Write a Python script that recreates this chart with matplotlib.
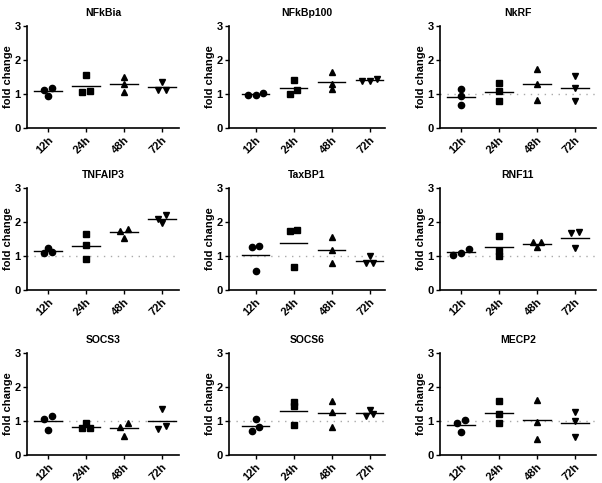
import matplotlib.pyplot as plt
import numpy as np

plt.rcParams['font.family'] = ['Liberation Sans', 'DejaVu Sans']
plt.rcParams['font.weight'] = 'bold'

times = ["12h", "24h", "48h", "72h"]
markers = ["o", "s", "^", "v"]

genes = ["NFkBia", "NFkBp100", "NkRF",
         "TNFAIP3", "TaxBP1", "RNF11",
         "SOCS3", "SOCS6", "MECP2"]

# fold change values, 3 replicates per time point
NFkBia = [[1.18, 1.12, 0.93], [1.56, 1.05, 1.08], [1.51, 1.28, 1.05], [1.36, 1.12, 1.12]]
NFkBp100 = [[1.02, 0.97, 0.97], [1.41, 1.01, 1.13], [1.65, 1.16, 1.28], [1.44, 1.39, 1.39]]
NkRF = [[1.14, 0.94, 0.67], [1.33, 1.10, 0.78], [1.74, 1.29, 0.81], [1.54, 1.17, 0.80]]
TNFAIP3 = [[1.25, 1.08, 1.13], [1.65, 1.33, 0.92], [1.80, 1.74, 1.54], [2.20, 1.96, 2.10]]
TaxBP1 = [[1.29, 1.27, 0.55], [1.76, 1.73, 0.69], [1.55, 1.17, 0.78], [0.99, 0.80, 0.80]]
RNF11 = [[1.20, 1.04, 1.09], [1.59, 1.01, 1.16], [1.42, 1.26, 1.41], [1.70, 1.69, 1.24]]
SOCS3 = [[1.16, 1.06, 0.74], [0.93, 0.78, 0.78], [0.94, 0.83, 0.57], [1.35, 0.76, 0.86]]
SOCS6 = [[1.07, 0.70, 0.81], [1.56, 1.43, 0.87], [1.60, 1.27, 0.81], [1.33, 1.16, 1.20]]
MECP2 = [[1.02, 0.93, 0.69], [1.60, 1.20, 0.95], [1.62, 0.97, 0.46], [1.26, 1.01, 0.54]]

data = [NFkBia, NFkBp100, NkRF, TNFAIP3, TaxBP1, RNF11, SOCS3, SOCS6, MECP2]
dotted_ref = [False, False, True, True, True, True, True, True, True]


def spread(vals):
    # scatter-dot style: points with similar values sit side by side
    vals = np.array(vals)
    offs = np.zeros(len(vals))
    order = np.argsort(vals)
    groups = [[order[0]]]
    for i in order[1:]:
        if vals[i] - vals[groups[-1][-1]] < 0.12:
            groups[-1].append(i)
        else:
            groups.append([i])
    for g in groups:
        n = len(g)
        for k, i in enumerate(g):
            offs[i] = (k - (n - 1) / 2) * 0.2
    return offs


fig = plt.figure(figsize=(6.02, 4.83), dpi=100)
W, H = 602.0, 483.0
col_left = [27, 229, 440]
col_xlim = [(-0.55, 3.45), (-0.7, 3.4), (-0.55, 3.55)]
row_top = [26, 188, 353]
ax_h = 102

for idx, gene in enumerate(genes):
    r, c = divmod(idx, 3)
    xl = col_xlim[c]
    width = (xl[1] - xl[0]) * 38
    ax = fig.add_axes([col_left[c] / W, 1 - (row_top[r] + ax_h) / H, width / W, ax_h / H])
    if dotted_ref[idx]:
        ax.axhline(1, color="#aaaaaa", ls=(0, (1, 4)), lw=1, zorder=0)
    for t, vals in enumerate(data[idx]):
        offs = spread(vals)
        ax.plot(t + offs, vals, ls="none", marker=markers[t], color="black", ms=4.5, zorder=3)
        m = np.mean(vals)
        ax.plot([t - 0.36, t + 0.36], [m, m], color="black", lw=1, zorder=2)
    ax.set_xlim(xl)
    ax.set_ylim(0, 3)
    ax.set_yticks([0, 1, 2, 3])
    ax.set_xticks(range(4))
    ax.set_xticklabels(times, rotation=45, ha="right", rotation_mode="anchor", fontsize=8)
    ax.tick_params(axis="y", labelsize=8, length=3, width=1, pad=1.5)
    ax.tick_params(axis="x", length=3, width=1, pad=2)
    ax.spines["top"].set_visible(False)
    ax.spines["right"].set_visible(False)
    ax.spines["left"].set_linewidth(1.2)
    ax.spines["bottom"].set_linewidth(1.2)
    ax.set_ylabel("fold change", fontsize=8, fontweight="bold", labelpad=1)
    ax.set_title(gene, fontsize=7.5, fontweight="bold", pad=7)

fig.savefig("out.png", dpi=100)
